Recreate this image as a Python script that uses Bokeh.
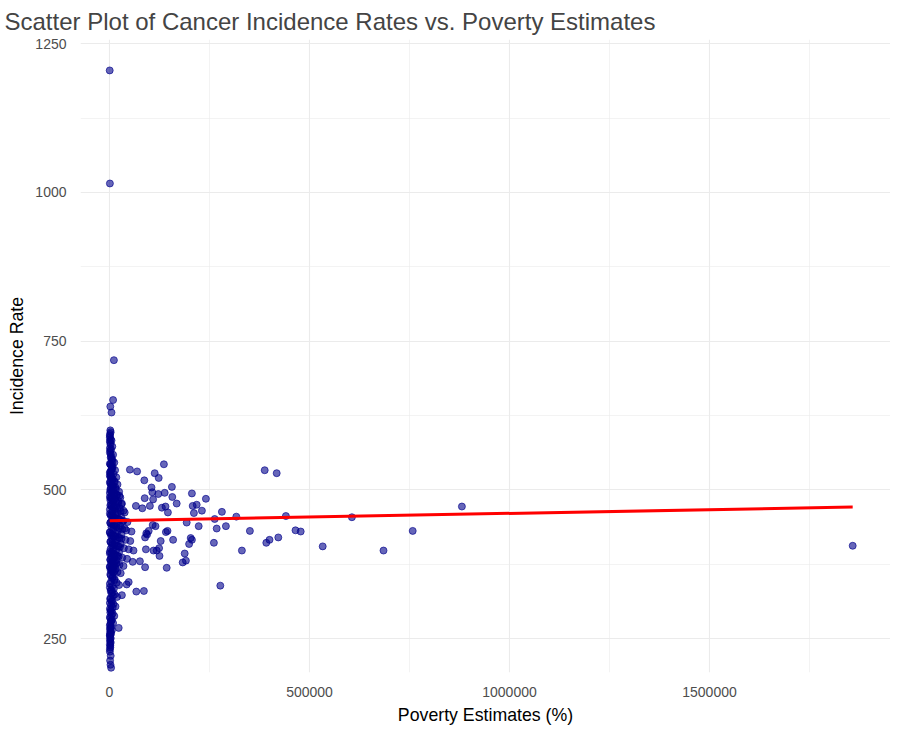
from bokeh.plotting import figure
from bokeh.models import ColumnDataSource, NumeralTickFormatter, FixedTicker, Range1d
from bokeh.embed import file_html
from bokeh.resources import INLINE

# poverty estimates and incidence rates
outlier_x = [388000, 418000, 136000, 113000, 123000, 156000, 157000, 206000, 241000,
             168000, 208000, 218000, 231000, 211000, 281000, 263000, 317000, 441000,
             606000, 881000, 193000, 223000, 268000, 291000, 351000, 465000, 478000,
             758000, 422000, 400000, 392000, 533000, 685000, 331000, 261000, 203000,
             206000, 199000, 159000, 128000, 188000, 183000, 191000, 143000, 89000,
             125000, 124000, 118000, 110000, 91000, 76000, 58000, 67000, 86000, 277000,
             31000, 23000, 48000, 43000, 145000, 141000, 98000, 94000, 108000, 115000,
             89000, 92000, 140000, 131000, 146000, 107000, 105000, 87000, 69000, 51000,
             88000, 122000, 138000, 109000, 101000, 82000, 66000, 1858000]
outlier_y = [533, 528, 543, 528, 520, 505, 488, 494, 485,
             477, 473, 475, 465, 461, 463, 451, 455, 456,
             454, 472, 445, 439, 435, 439, 431, 432, 430,
             431, 420, 416, 411, 405, 398, 398, 411, 419,
             416, 409, 416, 414, 393, 378, 381, 369, 370,
             389, 402, 398, 398, 400, 380, 379, 329, 330, 339,
             323, 268, 345, 341, 431, 429, 431, 425, 441, 439,
             420, 427, 472, 470, 462, 496, 504, 516, 531, 534,
             486, 493, 495, 484, 473, 469, 473, 406]

column_x = [500, 1000, 11000, 9000, 2000, 5000, 2000, 1500, 1000, 800, 3000, 2500,
            1000, 2000, 3000, 4000, 6000, 8000, 1000, 3000, 5000, 7000, 2000, 4000,
            1000, 2000, 3000, 5000, 8000, 12000, 1000, 3000, 6000, 10000, 15000, 2000,
            4000, 7000, 12000, 18000, 25000, 1000, 3000, 6000, 10000, 16000, 22000, 30000,
            2000, 5000, 9000, 14000, 20000, 28000, 38000, 1000, 4000, 8000, 13000, 19000,
            26000, 35000, 45000, 2000, 6000, 11000, 17000, 24000, 32000, 42000, 55000,
            1000, 4000, 9000, 15000, 22000, 30000, 40000, 52000, 3000, 7000, 12000, 18000,
            26000, 36000, 48000, 60000, 1000, 5000, 10000, 16000, 23000, 32000, 44000,
            2000, 6000, 11000, 17000, 25000, 35000, 1000, 4000, 8000, 13000, 20000, 28000,
            3000, 7000, 12000, 18000, 24000, 1000, 4000, 8000, 13000, 19000, 2000, 6000,
            10000, 15000, 1000, 4000, 8000, 12000, 2000, 5000, 9000, 1000, 3000, 6000,
            2000, 4000, 1000, 3000, 2000, 1000, 2000, 1000, 3000, 1500, 2500, 4000]
column_y = [1205, 1015, 718, 651, 640, 630, 600, 594, 588, 582, 585, 576,
            570, 566, 560, 556, 552, 548, 544, 542, 540, 536, 530, 532,
            524, 522, 526, 520, 518, 515, 512, 510, 508, 506, 504, 500,
            498, 496, 494, 492, 490, 488, 486, 484, 482, 480, 478, 476,
            474, 472, 470, 468, 466, 464, 462, 460, 458, 456, 454, 452,
            450, 448, 446, 444, 442, 440, 438, 436, 434, 432, 430,
            428, 426, 424, 422, 420, 418, 416, 414, 412, 410, 408, 406,
            404, 402, 400, 398, 396, 394, 392, 390, 388, 386, 384,
            382, 380, 378, 376, 374, 372, 370, 368, 366, 364, 362, 360,
            356, 352, 348, 344, 340, 336, 332, 328, 324, 320, 316, 312,
            308, 304, 300, 296, 292, 288, 284, 280, 276, 272, 268, 264,
            261, 258, 255, 250, 245, 240, 235, 228, 221, 213, 206, 201]

# second, denser layer of the solid column near zero
core_x = [3000, 1000, 5000, 2000, 7000, 4000, 1000, 9000, 3000, 6000, 12000, 2000,
          8000, 5000, 14000, 1000, 10000, 4000, 17000, 7000, 2000, 13000, 20000, 6000,
          3000, 16000, 9000, 24000, 1000, 11000, 19000, 5000, 27000, 14000, 2000, 22000,
          8000, 31000, 4000, 17000, 12000, 26000, 1000, 35000, 7000, 20000, 15000, 3000,
          29000, 10000, 23000, 6000, 33000, 2000, 18000, 13000, 27000, 5000, 38000, 9000,
          21000, 1000, 16000, 30000, 4000, 11000, 25000, 7000, 19000, 2000, 14000, 28000,
          6000, 22000, 10000, 3000, 17000, 8000, 24000, 1000, 13000, 20000, 5000, 11000,
          2000, 16000, 7000, 18000, 4000, 12000, 1000, 9000, 15000, 3000, 6000, 10000,
          2000, 8000, 13000, 4000, 1000, 7000, 11000, 3000, 5000, 9000, 2000, 6000,
          1000, 4000, 8000, 3000, 2000, 5000, 1000, 6000, 3000, 2000, 4000, 1000,
          3000, 2000, 1000, 2000, 1000, 3000, 2000, 1000]
core_y = [597, 591, 583, 579, 573, 568, 563, 559, 554, 550, 546, 543,
          539, 535, 533, 529, 527, 523, 521, 517, 514, 513, 509, 507,
          503, 501, 499, 497, 495, 493, 491, 489, 487, 485, 483, 481,
          479, 477, 475, 473, 471, 469, 467, 465, 463, 461, 459, 457,
          455, 453, 451, 449, 447, 445, 443, 441, 439, 437, 435, 433,
          431, 429, 427, 425, 423, 421, 419, 417, 415, 413, 411, 409,
          407, 405, 403, 401, 399, 397, 395, 393, 391, 389, 387, 385,
          383, 381, 379, 377, 375, 373, 371, 369, 367, 365, 363, 361,
          358, 354, 350, 346, 342, 338, 334, 330, 326, 322, 318, 314,
          310, 306, 302, 298, 294, 290, 286, 282, 278, 274, 270, 266,
          262, 259, 256, 252, 248, 243, 238, 232]

poverty = outlier_x + column_x + core_x
incidence = outlier_y + column_y + core_y

fit_intercept = 448.0
fit_slope = 1.25e-5

src = ColumnDataSource(dict(x=poverty, y=incidence))

p = figure(width=890, height=736, output_backend="svg", toolbar_location=None,
           x_range=Range1d(-72500, 1952500), y_range=Range1d(193, 1257),
           min_border_left=80, min_border_right=0, min_border_top=32,
           min_border_bottom=64,
           title="Scatter Plot of Cancer Incidence Rates vs. Poverty Estimates")
p.outline_line_color = None
p.background_fill_color = "white"
p.title.text_font = "Liberation Sans"
p.title.text_font_size = "18pt"
p.title.text_font_style = "normal"
p.title.offset = -76

for ax in (p.xaxis, p.yaxis):
    ax.axis_line_color = None
    ax.major_tick_line_color = None
    ax.minor_tick_line_color = None
    ax.major_label_text_font = "Liberation Sans"
    ax.major_label_text_font_size = "10.5pt"
    ax.major_label_text_color = "#4d4d4d"
    ax.axis_label_text_font = "Liberation Sans"
    ax.axis_label_text_font_size = "13.3pt"
    ax.axis_label_text_font_style = "normal"
    ax.axis_label_text_color = "black"

p.xaxis.axis_label = "Poverty Estimates (%)"
p.yaxis.axis_label = "Incidence Rate"
p.xaxis.ticker = FixedTicker(ticks=[0, 500000, 1000000, 1500000],
                             minor_ticks=[250000, 750000, 1250000, 1750000])
p.yaxis.ticker = FixedTicker(ticks=[250, 500, 750, 1000, 1250],
                             minor_ticks=[375, 625, 875, 1125])
p.xaxis.formatter = NumeralTickFormatter(format="0")
p.xaxis.major_label_standoff = 8
p.yaxis.major_label_standoff = 8

for g in (p.xgrid, p.ygrid):
    g.grid_line_color = "#ebebeb"
    g.grid_line_width = 1.1
    g.minor_grid_line_color = "#ebebeb"
    g.minor_grid_line_width = 0.6

p.scatter("x", "y", source=src, size=7, fill_color="#00008b", fill_alpha=0.6,
          line_color="#00008b", line_alpha=0.8, line_width=0.8)

x0, x1 = min(poverty), max(poverty)
p.line([x0, x1], [fit_intercept + fit_slope * x0, fit_intercept + fit_slope * x1],
       line_color="red", line_width=3)

open("out.html", "w").write(file_html(p, INLINE))
